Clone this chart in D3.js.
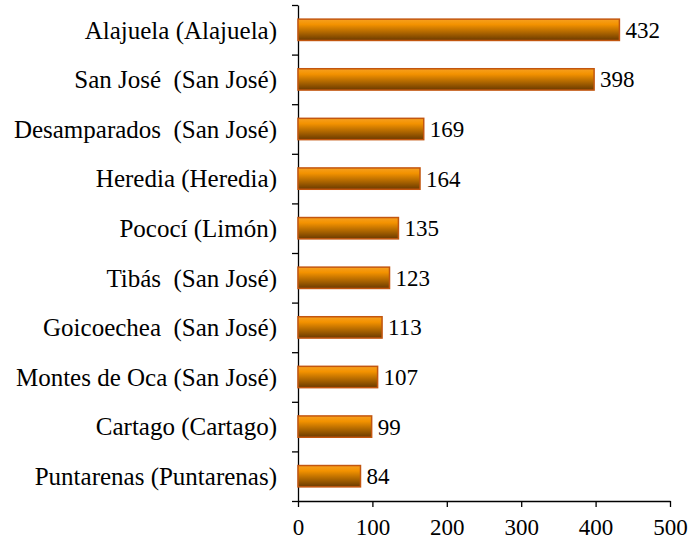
<!DOCTYPE html>
<html>
<head>
<meta charset="utf-8">
<script src="https://cdn.jsdelivr.net/npm/d3@7"></script>
<style>
  body { margin: 0; background: #fff; }
  text { font-family: "Liberation Serif", "Times New Roman", serif; fill: #000; }
</style>
</head>
<body>
<script>
const cantones = [
  "Alajuela (Alajuela)",
  "San José  (San José)",
  "Desamparados  (San José)",
  "Heredia (Heredia)",
  "Pococí (Limón)",
  "Tibás  (San José)",
  "Goicoechea  (San José)",
  "Montes de Oca (San José)",
  "Cartago (Cartago)",
  "Puntarenas (Puntarenas)"
]
const casos = [432, 398, 169, 164, 135, 123, 113, 107, 99, 84]
const xTicks = [0, 100, 200, 300, 400, 500]

const svgWidth = 689
const svgHeight = 550

const margin = { top: 5, right: 19, bottom: 49, left: 298 }
const chartWidth = svgWidth - margin.left - margin.right
const chartHeight = svgHeight - margin.top - margin.bottom

const svg = d3.select("body").append("svg")
  .attr("width", svgWidth)
  .attr("height", svgHeight)

const defs = svg.append("defs")
const grad = defs.append("linearGradient")
  .attr("id", "barGrad")
  .attr("x1", 0).attr("y1", 0).attr("x2", 0).attr("y2", 1)
grad.append("stop").attr("offset", "0%").attr("stop-color", "#f7a020")
grad.append("stop").attr("offset", "25%").attr("stop-color", "#f39200")
grad.append("stop").attr("offset", "100%").attr("stop-color", "#6a3a00")

const chartG = svg.append("g")
  .attr("transform", `translate(${margin.left}, ${margin.top})`)

const x = d3.scaleLinear()
  .domain([0, 500])
  .range([0, chartWidth])

const y = d3.scaleBand()
  .domain(cantones)
  .range([0, chartHeight])
  .paddingInner(0.57)
  .paddingOuter(0.285)

// y axis: ticks sit between the categories
const yEdges = d3.scaleLinear()
  .domain([0, cantones.length])
  .range([0, chartHeight])

chartG.append("g")
  .call(d3.axisLeft(yEdges)
    .tickValues(d3.range(cantones.length + 1))
    .tickSize(6)
    .tickSizeOuter(0)
    .tickFormat(""))
  .call(g => g.selectAll("line, path").attr("stroke", "#000").attr("stroke-width", 1.3))

chartG.append("g")
  .selectAll("text")
  .data(cantones)
  .join("text")
  .attr("x", -21)
  .attr("y", d => y(d) + y.bandwidth() / 2)
  .attr("dy", "0.35em")
  .attr("text-anchor", "end")
  .attr("font-size", 25)
  .style("white-space", "pre")
  .text(d => d)

const xAxisG = chartG.append("g")
  .attr("transform", `translate(0, ${chartHeight})`)
  .call(d3.axisBottom(x)
    .tickValues(xTicks)
    .tickSize(6)
    .tickSizeOuter(0)
    .tickPadding(12))
xAxisG.select(".domain").attr("stroke", "#000").attr("stroke-width", 1.3)
xAxisG.selectAll(".tick line").attr("stroke", "#000").attr("stroke-width", 1.3)
xAxisG.selectAll(".tick text")
  .attr("font-size", 23)
  .attr("font-family", "Liberation Serif, Times New Roman, serif")

const rows = cantones.map((c, i) => ({ canton: c, value: casos[i] }))

chartG.selectAll("rect.bar")
  .data(rows)
  .join("rect")
  .attr("class", "bar")
  .attr("x", 0)
  .attr("y", d => y(d.canton))
  .attr("width", d => x(d.value))
  .attr("height", y.bandwidth())
  .attr("fill", "url(#barGrad)")
  .attr("stroke", "#c2560f")
  .attr("stroke-width", 1.5)

chartG.selectAll("text.val")
  .data(rows)
  .join("text")
  .attr("class", "val")
  .attr("x", d => x(d.value) + 6)
  .attr("y", d => y(d.canton) + y.bandwidth() / 2)
  .attr("dy", "0.35em")
  .attr("font-size", 23)
  .text(d => d.value)
</script>
</body>
</html>
